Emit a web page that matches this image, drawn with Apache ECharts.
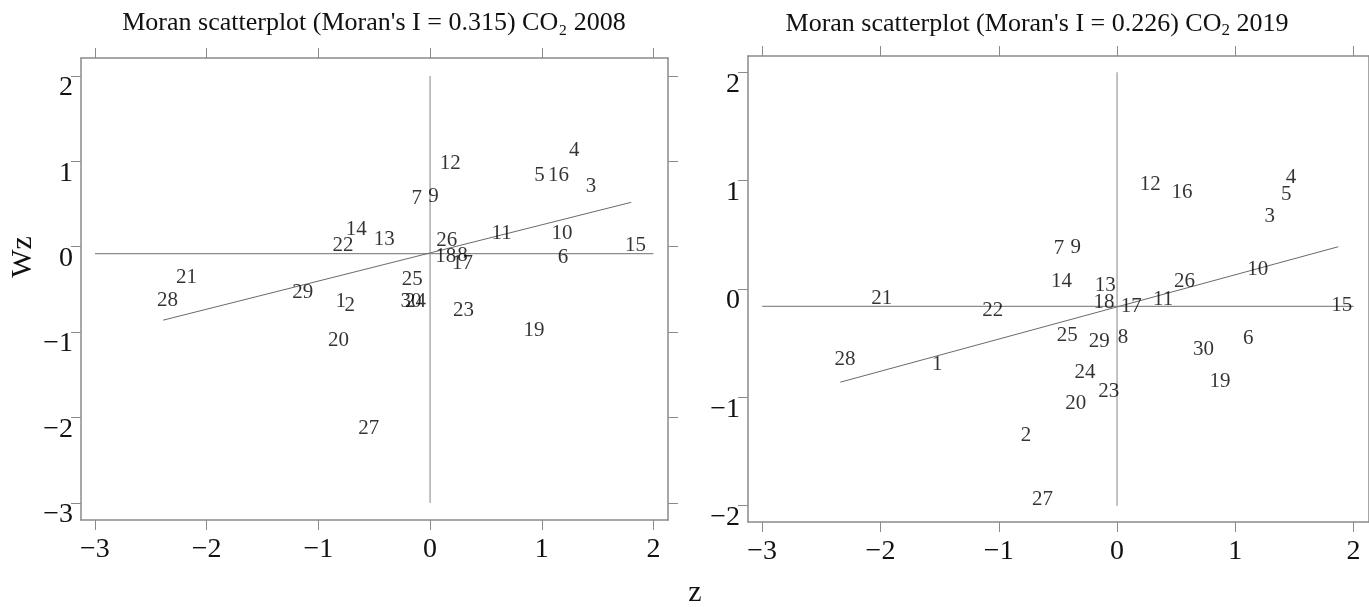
<!DOCTYPE html>
<html>
<head>
<meta charset="utf-8">
<script src="https://cdn.jsdelivr.net/npm/echarts@6/dist/echarts.min.js"></script>
<style>
html,body{margin:0;padding:0;background:#fff;}
#chart{width:1369px;height:607px;}
</style>
</head>
<body>
<div id="chart"></div>
<script>
// ---- data ----
const ids = [1,2,3,4,5,6,7,8,9,10,11,12,13,14,15,16,17,18,19,20,21,22,23,24,25,26,27,28,29,30];

const z2008  = [-0.80,-0.72,1.44,1.29,0.98,1.19,-0.12,0.29,0.03,1.18,0.64,0.18,-0.41,-0.66,1.84,1.15,0.29,0.14,0.93,-0.82,-2.18,-0.78,0.30,-0.13,-0.16,0.15,-0.55,-2.35,-1.14,-0.17];
const wz2008 = [-0.64,-0.69,0.70,1.13,0.84,-0.13,0.56,-0.10,0.59,0.16,0.16,0.97,0.09,0.20,0.02,0.84,-0.20,-0.12,-0.98,-1.10,-0.36,0.01,-0.75,-0.64,-0.38,0.07,-2.13,-0.63,-0.53,-0.64];

const z2019  = [-1.52,-0.77,1.29,1.47,1.43,1.11,-0.49,0.05,-0.35,1.19,0.39,0.28,-0.10,-0.47,1.90,0.55,0.12,-0.11,0.87,-0.35,-1.99,-1.05,-0.07,-0.27,-0.42,0.57,-0.63,-2.30,-0.15,0.73];
const wz2019 = [-0.70,-1.35,0.67,1.03,0.87,-0.46,0.37,-0.45,0.38,0.18,-0.10,0.96,0.03,0.07,-0.15,0.89,-0.16,-0.12,-0.85,-1.06,-0.09,-0.20,-0.95,-0.77,-0.43,0.07,-1.94,-0.65,-0.48,-0.56];

// regression lines (end points) and reference lines
const fit2008 = [[-2.39,-0.86],[1.80,0.52]];
const fit2019 = [[-2.34,-0.86],[1.87,0.39]];
const hLine2008 = [[-3,-0.08],[2,-0.08]];
const vLine2008 = [[0,-3],[0,2]];
const hLine2019 = [[-3,-0.16],[2,-0.16]];
const vLine2019 = [[0,-2],[0,2]];

const xTicks = [-3,-2,-1,0,1,2];
const yTicks2008 = [-3,-2,-1,0,1,2];
const yTicks2019 = [-2,-1,0,1,2];

const title2008 = "Moran scatterplot (Moran's I = 0.315) CO₂ 2008";
const title2019a = "Moran scatterplot (Moran's I = 0.226) CO";
const title2019b = " 2019";

// ---- chart ----
const FONT = '"Liberation Serif", "DejaVu Serif", serif';
const frameColor = '#8a8a8a';
const fmt = v => (v < 0 ? '\u2212' + Math.abs(v) : String(v));

function pts(zs, ws) { return zs.map((z, i) => [z, ws[i], ids[i]]); }

function xAxes(gi, min, max) {
  return [
    { gridIndex: gi, type: 'value', min: min, max: max, position: 'bottom',
      axisLine: { onZero: false, lineStyle: { color: frameColor, width: 1.5 } },
      axisTick: { length: 10, customValues: xTicks, lineStyle: { color: frameColor } },
      axisLabel: { customValues: xTicks, formatter: fmt, fontFamily: FONT, fontSize: 28, color: '#111', margin: 16 },
      splitLine: { show: false } },
    { gridIndex: gi, type: 'value', min: min, max: max, position: 'top',
      axisLine: { onZero: false, lineStyle: { color: frameColor, width: 1.5 } },
      axisTick: { length: 10, customValues: xTicks, lineStyle: { color: frameColor } },
      axisLabel: { show: false }, splitLine: { show: false } }
  ];
}
function yAxes(gi, min, max, ticks, rightTicks) {
  return [
    { gridIndex: gi, type: 'value', min: min, max: max, position: 'left',
      axisLine: { show: true, onZero: false, lineStyle: { color: frameColor, width: 1.5 } },
      axisTick: { show: true, length: 10, customValues: ticks, lineStyle: { color: frameColor } },
      axisLabel: { customValues: ticks, formatter: fmt, fontFamily: FONT, fontSize: 28, color: '#111', margin: 8,
                   verticalAlign: 'top', lineHeight: 24 },
      splitLine: { show: false } },
    { gridIndex: gi, type: 'value', min: min, max: max, position: 'right',
      axisLine: { show: true, onZero: false, lineStyle: { color: frameColor, width: 1.5 } },
      axisTick: { show: rightTicks, length: 10, customValues: ticks, lineStyle: { color: frameColor } },
      axisLabel: { show: false }, splitLine: { show: false } }
  ];
}
function lineSeries(xi, yi, data, color, width) {
  return { type: 'line', xAxisIndex: xi, yAxisIndex: yi, data: data, symbol: 'none', silent: true,
           lineStyle: { color: color, width: width }, z: 1, animation: false };
}
function labelSeries(xi, yi, data) {
  return { type: 'scatter', xAxisIndex: xi, yAxisIndex: yi, data: data, symbolSize: 0.1, silent: true,
           animation: false, z: 3,
           label: { show: true, position: 'inside', formatter: p => String(p.value[2]),
                    fontFamily: FONT, fontSize: 21, color: '#000' },
           itemStyle: { color: 'rgba(0,0,0,0)' } };
}

const chart = echarts.init(document.getElementById('chart'), null, { renderer: 'canvas' });
chart.setOption({
  backgroundColor: '#fff',
  animation: false,
  title: [
    { text: title2008, left: 374, top: 10, textAlign: 'center', padding: 0,
      textStyle: { fontFamily: FONT, fontSize: 26, fontWeight: 'normal', color: '#111' } },
    { text: title2019a + '{s|2}' + title2019b, left: 1037, top: 10, textAlign: 'center', padding: 0,
      textStyle: { fontFamily: FONT, fontSize: 26, fontWeight: 'normal', color: '#111',
                   rich: { s: { fontFamily: FONT, fontSize: 17, color: '#111', padding: [12, 0, 0, 0] } } } }
  ],
  grid: [
    { left: 81, top: 58, width: 587, height: 462 },
    { left: 748, top: 56, width: 624, height: 466 }
  ],
  xAxis: [].concat(xAxes(0, -3.125, 2.13), xAxes(1, -3.12, 2.13)),
  yAxis: [].concat(yAxes(0, -3.2, 2.21, yTicks2008, true), yAxes(1, -2.15, 2.15, yTicks2019, false)),
  series: [
    lineSeries(0, 0, hLine2008, '#8c8c8c', 1.3),
    lineSeries(0, 0, vLine2008, '#a0a0a0', 1.3),
    lineSeries(0, 0, fit2008, '#6a6a6a', 1),
    labelSeries(0, 0, pts(z2008, wz2008)),
    lineSeries(2, 2, hLine2019, '#8c8c8c', 1.3),
    lineSeries(2, 2, vLine2019, '#a0a0a0', 1.3),
    lineSeries(2, 2, fit2019, '#6a6a6a', 1),
    labelSeries(2, 2, pts(z2019, wz2019))
  ],
  graphic: [
    { type: 'text', x: 23, y: 257, rotation: Math.PI / 2,
      style: { text: 'Wz', font: '30px ' + FONT, fill: '#111', align: 'center', verticalAlign: 'middle' } },
    { type: 'text', x: 695, y: 593,
      style: { text: 'z', font: '30px ' + FONT, fill: '#111', align: 'center', verticalAlign: 'middle' } }
  ]
});
</script>
</body>
</html>
